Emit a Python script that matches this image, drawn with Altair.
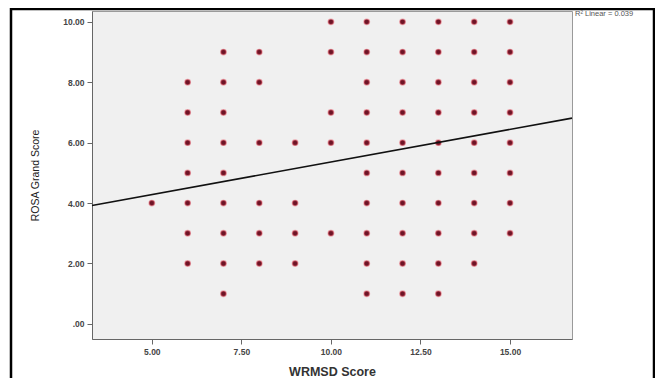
import altair as alt
import pandas as pd

# ---- data ----
wrmsd_scores = [5, 6, 7, 8, 9, 10, 11, 12, 13, 14, 15]
rosa_by_wrmsd = [
    [4],
    [2, 3, 4, 5, 6, 7, 8],
    [1, 2, 3, 4, 5, 6, 7, 8, 9],
    [2, 3, 4, 6, 8, 9],
    [2, 3, 4, 6],
    [3, 6, 7, 9, 10],
    [1, 2, 3, 4, 5, 6, 7, 8, 9, 10],
    [1, 2, 3, 4, 5, 6, 7, 8, 9, 10],
    [1, 2, 3, 4, 5, 6, 7, 8, 9, 10],
    [2, 3, 4, 5, 6, 7, 8, 9, 10],
    [3, 4, 5, 6, 7, 8, 9, 10],
]
fit_intercept = 3.20
fit_slope = 0.216
r_squared_label = "R\u00b2 Linear = 0.039"
x_ticks = [5, 7.5, 10, 12.5, 15]
y_ticks = [0, 2, 4, 6, 8, 10]
x_domain = [3.33, 16.73]
y_domain = [-0.5, 10.36]

rows = []
for xv, ylist in zip(wrmsd_scores, rosa_by_wrmsd):
    for yv in ylist:
        rows.append({"WRMSD": xv, "ROSA": yv})
points_df = pd.DataFrame(rows)

fit_df = pd.DataFrame({
    "WRMSD": x_domain,
    "ROSA": [fit_intercept + fit_slope * v for v in x_domain],
})

W, H = 480, 328

x_enc = alt.X(
    "WRMSD:Q",
    scale=alt.Scale(domain=x_domain, nice=False, zero=False),
    axis=alt.Axis(
        title="WRMSD Score",
        values=x_ticks,
        format=".2f",
        titleFontSize=12.5,
        titleFontWeight="bold",
        titleColor="#333333",
        titlePadding=10,
        labelPadding=3,
    ),
)
y_enc = alt.Y(
    "ROSA:Q",
    scale=alt.Scale(domain=y_domain, nice=False, zero=False),
    axis=alt.Axis(
        title="ROSA Grand Score",
        values=y_ticks,
        labelExpr="datum.value == 0 ? '.00' : format(datum.value, '.2f')",
        titleFontSize=10.5,
        titleFontWeight="normal",
        titleColor="#222222",
        titlePadding=22,
        labelPadding=3,
    ),
)

points = alt.Chart(points_df).mark_circle(
    size=30,
    color="#6e1426",
    opacity=1,
    stroke="#e8606e",
    strokeWidth=1.4,
    strokeOpacity=0.5,
).encode(x=x_enc, y=y_enc)

fit = alt.Chart(fit_df).mark_line(color="#111111", strokeWidth=1.6).encode(
    x="WRMSD:Q", y="ROSA:Q"
)

label = alt.Chart(pd.DataFrame({"t": [r_squared_label]})).mark_text(
    align="left", baseline="middle", fontSize=7.5, color="#555555",
    font="Liberation Sans",
).encode(text="t:N", x=alt.value(W + 3), y=alt.value(3))

one = pd.DataFrame({"a": [0]})
frame_left = alt.Chart(one).mark_rule(color="black", strokeWidth=2.5).encode(
    x=alt.value(-81), y=alt.value(-3), y2=alt.value(367)
)
frame_right = alt.Chart(one).mark_rule(color="black", strokeWidth=2.5).encode(
    x=alt.value(562), y=alt.value(-3), y2=alt.value(367)
)
frame_top = alt.Chart(one).mark_rule(color="black", strokeWidth=2.5).encode(
    x=alt.value(-82), x2=alt.value(563), y=alt.value(-2)
)

chart = (
    alt.layer(points, fit, label, frame_left, frame_right, frame_top)
    .properties(
        width=W,
        height=H,
        autosize=alt.AutoSizeParams(type="none"),
        padding={"left": 84, "top": 3, "right": 83, "bottom": 39},
        background="white",
    )
    .configure_view(fill="#f0f0f0", stroke="#9a9a9a", strokeWidth=1)
    .configure_axis(
        grid=False,
        domainColor="#666666",
        tickColor="#666666",
        tickSize=5,
        labelFont="Liberation Sans",
        titleFont="Liberation Sans",
        labelFontSize=8.5,
        labelFontWeight="bold",
        labelColor="#444444",
    )
)

chart.save("out.html", embed_options={"renderer": "svg", "actions": False})
